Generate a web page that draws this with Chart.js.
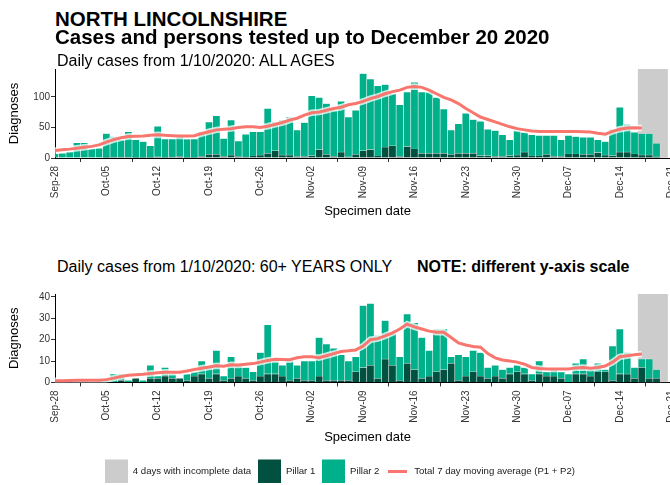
<!DOCTYPE html>
<html>
<head>
<meta charset="utf-8">
<script src="https://cdn.jsdelivr.net/npm/chart.js@4.4.1/dist/chart.umd.min.js"></script>
<style>
  html, body { margin: 0; padding: 0; background: #fff; width: 670px; height: 485px; overflow: hidden;
    font-family: "Liberation Sans", Arial, sans-serif; }
  .txt { position: absolute; white-space: nowrap; color: #000; z-index: 2; }
  .title { left: 55px; font-size: 20.5px; font-weight: bold; line-height: 20px; }
  .sub { left: 57px; font-size: 16px; line-height: 18px; }
  .panel { position: absolute; left: 0; width: 680px; }
</style>
</head>
<body>
<div class="txt title" style="top:9px">NORTH LINCOLNSHIRE</div>
<div class="txt title" style="top:26.5px">Cases and persons tested up to December 20 2020</div>
<div class="txt sub" style="top:51.5px">Daily cases from 1/10/2020: ALL AGES</div>
<div class="txt sub" style="top:257.5px">Daily cases from 1/10/2020: 60+ YEARS ONLY</div>
<div class="txt sub" style="top:257.5px;left:417px;font-weight:bold">NOTE: different y-axis scale</div>

<div class="panel" style="top:66px;height:160px"><canvas id="allAges"></canvas></div>
<div class="panel" style="top:288px;height:198px"><canvas id="over60"></canvas></div>

<script>
// Day index 0 = 28 Sep 2020; one entry per specimen day up to 20 Dec 2020.
const weekTickLabels = ['Sep-28','Oct-05','Oct-12','Oct-19','Oct-26','Nov-02','Nov-09',
                        'Nov-16','Nov-23','Nov-30','Dec-07','Dec-14','Dec-21'];
const incompleteDays = [80, 81, 82, 83];   // 17-20 Dec

// All ages
const allPillar1 = [
  0,0,0,0,0,0,0,1,2,2,  2,1,1,1,2,1,2,3,1,1,  3,6,6,3,5,3,2,4,5,8,
  12,5,5,3,3,4,14,6,3,10,  2,6,12,14,4,18,20,3,19,15,  8,8,8,8,6,8,8,8,4,4,
  3,3,4,5,10,4,4,6,3,3,  7,7,6,6,9,5,4,10,10,7,  5,5,2,0];
const allPillar2 = [
  7,8,10,25,25,15,16,39,33,28,  41,29,26,19,50,30,29,35,30,30,  40,53,63,29,57,25,37,39,38,73,
  47,57,62,43,55,98,85,83,75,83,  65,72,126,115,114,102,85,84,89,109,  100,100,91,72,40,48,65,55,56,43,
  42,35,26,40,32,34,33,31,34,27,  30,28,28,28,21,22,43,73,45,35,  35,35,22,0];
const allAverage = [
  12.4,13.5,14.5,16,17.5,19,21.5,26,30,33,  35,35.5,36,37,38,37,36.5,36,36,36.5,
  40,43,46,47,48,50,51,51,50,52,  55,58,62,65,70,74,75,78,81,83,
  87,89,92.5,97,100.5,105,108.5,111,115.5,117,  115.5,111,105,99,95,89,81,74,67,63,
  59,55,51,48,46,44,43.5,43.5,43.5,43.5,  43.5,43.5,43,42.5,40.5,39,43.5,47,49,49.5,  49];
const allTicks = [0, 50, 100];

// 60+ years only
const oldPillar1 = [
  0,0,0,0,0,0,0,0,0,1,  0,2,0,2,2,3,2,2,1,3,  4,2,4,1,2,3,2,1,3,4,
  4,3,1,2,1,1,3,1,1,1,  1,5,7,8,2,11,8,1,9,6,  2,3,5,6,9,1,3,5,3,2,
  3,2,4,5,4,1,4,3,3,2,  0,4,4,3,5,5,1,4,4,2,  7,2,2,0];
const oldPillar2 = [
  0,1,0,1,1,0,1,1,4,3,  1,0,1,6,1,4,2,0,3,2,  6,5,11,2,10,5,5,4,11,23,
  6,5,9,6,9,9,18,17,15,12,  9,7,29,29,20,18,15,11,23,22,  19,12,20,19,3,12,9,10,11,5,
  5,4,3,3,3,3,6,2,3,3,  4,5,7,3,4,1,16,21,10,5,  4,9,4,0];
const oldAverage = [
  0.8,0.8,0.9,1,1,1,1,1.3,2,2.8,  3.3,3.6,3.8,4.2,4.5,4.7,4.8,4.8,5.3,6,
  6.6,7.2,7.8,7.6,8.3,8.2,8.5,8.8,9.5,10.3,  10.8,10.7,10.6,11.5,12,12,11.6,12.5,13.5,14.5,
  14.8,15.2,17,20,20.5,21.8,23.2,25,27.3,26,  25,24,23.5,23.5,21,18.5,17.5,16.8,16.5,13.5,
  11.5,10.5,10,9.5,8.5,7,6.5,6.3,6.3,6.3,  6.3,6.8,7,6.6,7,7.7,9.5,12,12.5,13,  13.3];
const oldTicks = [0, 10, 20, 30, 40];

const TEAL = '#00B08A', DARK = '#02503F', GREY = '#CCCCCC', RED = '#F8766D';
const FONT = '"Liberation Sans", Arial, sans-serif';
Chart.defaults.font.family = FONT;

const xy = values => values.map((v, i) => ({ x: i, y: v }));

// legend keys drawn as small canvases
function keySwatch(color, w, h) {
  const c = document.createElement('canvas');
  c.width = w; c.height = h;
  const g = c.getContext('2d');
  g.fillStyle = color; g.fillRect(0, 0, w, h);
  return c;
}
const legendKeys = [
  { text: '4 days with incomplete data', icon: keySwatch(GREY, 23, 24), color: GREY },
  { text: 'Pillar 1', icon: keySwatch(DARK, 23, 24), color: DARK },
  { text: 'Pillar 2', icon: keySwatch(TEAL, 23, 24), color: TEAL },
  { text: 'Total 7 day moving average (P1 + P2)', icon: keySwatch(RED, 19, 3), color: RED }
];

function buildChart(id, p1, p2, avg, yMax, yTicks, xHeight, xTitlePad, padTop, withLegend) {
  const barBorder = { left: 0.6, right: 0.6, top: 0.6, bottom: 0 };
  return new Chart(document.getElementById(id), {
    data: {
      datasets: [
        { type: 'line', label: 'avg', data: xy(avg), borderColor: RED, borderWidth: 3,
          pointRadius: 0, tension: 0, stack: 'avg', order: 1, clip: 0 },
        { type: 'line', label: 'avgHalo', data: xy(avg), borderColor: 'rgba(255,255,255,0.75)', borderWidth: 6.5,
          pointRadius: 0, tension: 0, stack: 'avgHalo', order: 2, clip: 0 },
        { type: 'bar', label: 'Pillar 1', data: xy(p1), backgroundColor: DARK,
          borderColor: 'rgba(255,255,255,0.35)', borderWidth: barBorder, borderSkipped: false,
          stack: 'cases', order: 3, barPercentage: 1, categoryPercentage: 1, clip: 0 },
        { type: 'bar', label: 'Pillar 2', data: xy(p2), backgroundColor: TEAL,
          borderColor: 'rgba(255,255,255,0.45)', borderWidth: barBorder, borderSkipped: false,
          stack: 'cases', order: 4, barPercentage: 1, categoryPercentage: 1, clip: 0 },
        { type: 'bar', label: 'incomplete', data: incompleteDays.map(d => ({ x: d, y: yMax })),
          backgroundColor: GREY, borderWidth: 0, grouped: false, stack: 'incomplete', order: 5,
          barPercentage: 1, categoryPercentage: 1, clip: 0 }
      ]
    },
    options: {
      responsive: true, maintainAspectRatio: false, animation: false, devicePixelRatio: 1,
      layout: { padding: { top: padTop, left: 0, right: 0, bottom: 0 } },
      plugins: {
        tooltip: { enabled: false },
        legend: withLegend ? {
          display: true, position: 'bottom', align: 'center',
          labels: {
            usePointStyle: true, pointStyleWidth: 23, padding: 7, color: '#1a1a1a',
            font: { size: 9.6, family: FONT },
            generateLabels: () => legendKeys.map(k => ({
              text: k.text, pointStyle: k.icon, fillStyle: k.color, strokeStyle: k.color,
              lineWidth: 0, hidden: false, fontColor: '#1a1a1a'
            }))
          }
        } : { display: false }
      },
      scales: {
        x: {
          type: 'linear', min: 0, max: 85.2, offset: false,
          afterBuildTicks: s => { s.ticks = weekTickLabels.map((_, k) => ({ value: 7 * k })); },
          afterFit: s => { s.height = xHeight; s.paddingLeft = 0; s.paddingRight = 0; },
          ticks: { autoSkip: false, minRotation: 90, maxRotation: 90, padding: 4, color: '#333',
                   font: { size: 10 }, callback: (v, i) => weekTickLabels[i] },
          grid: { drawOnChartArea: false, tickLength: 4, color: '#333' },
          border: { color: '#000', width: 1 },
          title: { display: true, text: 'Specimen date', color: '#000', font: { size: 13 },
                   padding: { top: 0, bottom: xTitlePad } }
        },
        y: {
          type: 'linear', min: 0, max: yMax, stacked: true,
          afterBuildTicks: s => { s.ticks = yTicks.map(v => ({ value: v })); },
          afterFit: s => { s.width = 55; s.paddingTop = 0; s.paddingBottom = 0; },
          ticks: { padding: 1, color: '#333', font: { size: 10 } },
          grid: { drawOnChartArea: false, tickLength: 4, color: '#333' },
          border: { color: '#000', width: 1 },
          title: { display: true, text: 'Diagnoses', color: '#000', font: { size: 13 },
                   padding: { top: 7, bottom: 0 } }
        }
      }
    }
  });
}

buildChart('allAges', allPillar1, allPillar2, allAverage, 145.5, allTicks, 68, 7, 3, false);
buildChart('over60', oldPillar1, oldPillar2, oldAverage, 41.4, oldTicks, 77, 14.5, 6, true);
</script>
</body>
</html>
